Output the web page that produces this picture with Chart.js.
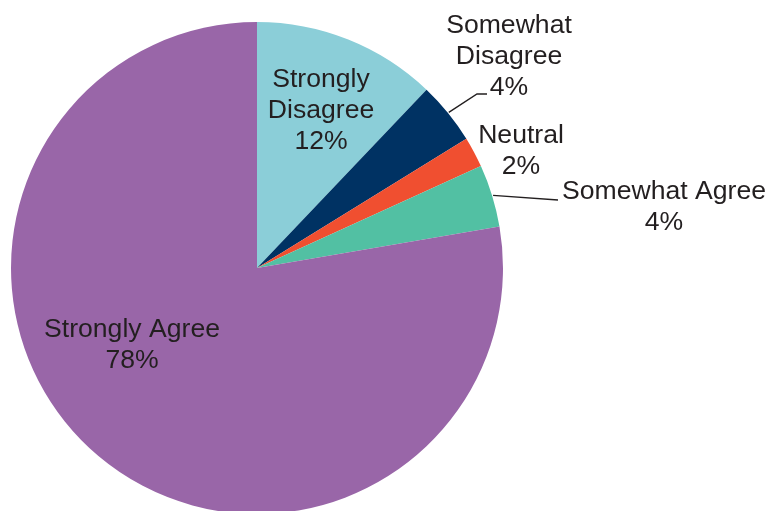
<!DOCTYPE html>
<html>
<head>
<meta charset="utf-8">
<script src="https://cdn.jsdelivr.net/npm/chart.js@4/dist/chart.umd.min.js"></script>
<style>
  html, body { margin: 0; padding: 0; background: #ffffff; overflow: hidden; }
  #wrap { width: 770px; height: 520px; }
</style>
</head>
<body>
<div id="wrap"><canvas id="c" width="770" height="520"></canvas></div>
<script>
// ---- data ----
const categories = ['Strongly Disagree', 'Somewhat Disagree', 'Neutral', 'Somewhat Agree', 'Strongly Agree'];
const labelLines = [['Strongly', 'Disagree'], ['Somewhat', 'Disagree'], ['Neutral'], ['Somewhat Agree'], ['Strongly Agree']];
const shares = [12.1, 4.1, 2.0, 4.1, 77.7];
const colors = ['#8BCED8', '#003263', '#F04F30', '#52C0A3', '#9966A8'];

// ---- label layout (offsets from pie centre, first baseline) ----
const labelLayout = [
  { dx: 64,  dy: -181.5, leader: null },
  { dx: 252, dy: -235,   leader: [[220, -174], [230, -174]] },
  { dx: 264, dy: -125.5, leader: null },
  { dx: 407, dy: -68.7,  leader: [[301, -68]] },
  { dx: -125, dy: 69.3,  leader: null }
];
const LINE_H = 31;
const TEXT_COLOR = '#231F20';
const FONT = '26.6px "Liberation Sans", Arial, Helvetica, sans-serif';

const labelPlugin = {
  id: 'pieLabels',
  afterDatasetsDraw(chart) {
    const ctx = chart.ctx;
    const meta = chart.getDatasetMeta(0);
    const total = shares.reduce((a, b) => a + b, 0);
    ctx.save();
    meta.data.forEach((arc, i) => {
      const p = arc.getProps(['x', 'y', 'startAngle', 'endAngle', 'outerRadius'], true);
      const lay = labelLayout[i];
      const cx = p.x, cy = p.y;
      if (lay.leader) {
        const mid = (p.startAngle + p.endAngle) / 2;
        const sx = cx + Math.cos(mid) * (p.outerRadius + 1);
        const sy = cy + Math.sin(mid) * (p.outerRadius + 1);
        ctx.beginPath();
        ctx.moveTo(sx, sy);
        lay.leader.forEach(pt => ctx.lineTo(cx + pt[0], cy + pt[1]));
        ctx.strokeStyle = '#231F20';
        ctx.lineWidth = 1.4;
        ctx.stroke();
      }
      const pct = Math.round(shares[i] / total * 100) + '%';
      const lines = labelLines[i].concat([pct]);
      ctx.font = FONT;
      ctx.fillStyle = TEXT_COLOR;
      ctx.textAlign = 'center';
      ctx.textBaseline = 'alphabetic';
      lines.forEach((t, k) => {
        ctx.fillText(t, cx + lay.dx, cy + lay.dy + k * LINE_H);
      });
    });
    ctx.restore();
  }
};

new Chart(document.getElementById('c'), {
  type: 'pie',
  data: {
    labels: categories,
    datasets: [{
      data: shares,
      backgroundColor: colors,
      borderWidth: 0,
      hoverOffset: 0,
      offset: 0
    }]
  },
  options: {
    responsive: false,
    animation: false,
    events: [],
    layout: { padding: { left: 11, top: 22, right: 267, bottom: 6 } },
    plugins: {
      legend: { display: false },
      tooltip: { enabled: false }
    }
  },
  plugins: [labelPlugin]
});
</script>
</body>
</html>
